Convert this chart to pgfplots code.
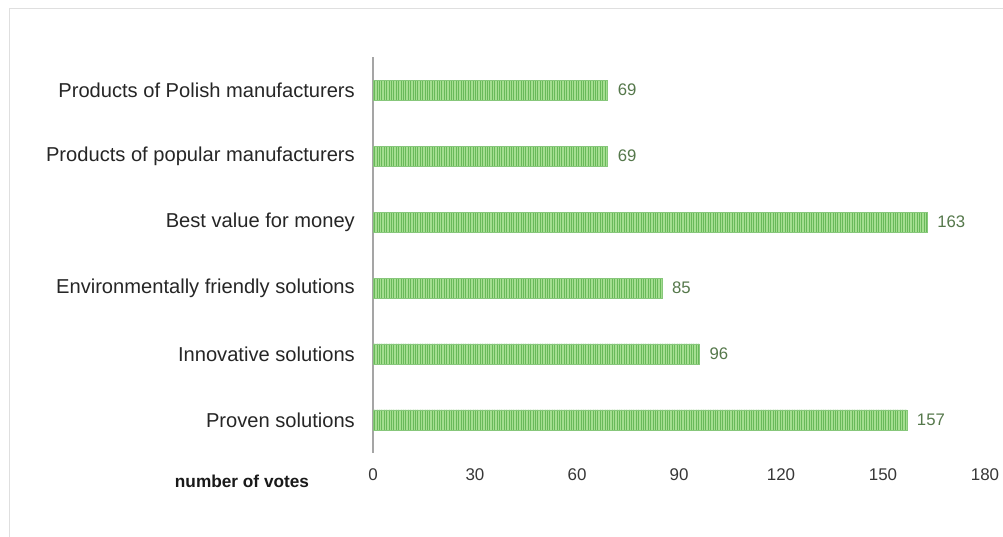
\documentclass[border=0pt]{standalone}
\usepackage{fontspec}
\setmainfont{Liberation Sans}
\usepackage{pgfplots}
\pgfplotsset{compat=1.18}
\usetikzlibrary{patterns.meta}
\definecolor{barfill}{RGB}{165,222,145}
\definecolor{barline}{RGB}{105,185,90}
\definecolor{lblgreen}{RGB}{85,120,75}
\definecolor{axgray}{RGB}{165,165,165}
\definecolor{tickgray}{RGB}{55,55,55}
\begin{document}
\begin{tikzpicture}
\useasboundingbox (0,0) rectangle (1003bp,537bp);
\fill[white] (0,0) rectangle (1003bp,537bp);
\draw[gray!25, line width=1bp] (9bp,0) -- (9bp,528bp) -- (1003bp,528bp);
\begin{axis}[
  at={(373bp,84bp)}, anchor=south west,
  scale only axis, width=612bp, height=396bp,
  xbar, bar width=20bp,
  xmin=0, xmax=180, ymin=-0.5, ymax=5.5,
  xtick={0,30,...,180},
  ytick={0,...,5},
  yticklabels={Proven solutions, Innovative solutions, Environmentally friendly solutions, Best value for money, Products of popular manufacturers, Products of Polish manufacturers},
  axis lines*=left,
  x axis line style={draw=none},
  y axis line style={draw=axgray, line width=1.2bp},
  major tick length=0pt,
  /pgf/number format/assume math mode=true,
  xticklabel style={font=\fontsize{17}{19}\selectfont, text=tickgray, anchor=center, yshift=-22bp},
  yticklabel style={font=\fontsize{20.2}{23}\selectfont, text=black!85, anchor=east, inner sep=0pt, xshift=-18bp},
  nodes near coords,
  nodes near coords style={font=\fontsize{16.8}{18}\selectfont, text=lblgreen, anchor=west, inner sep=0pt, xshift=10bp},
  clip=false,
]
\addplot[draw=barline!80, line width=0.3bp, fill=barfill, postaction={pattern={Lines[angle=90,distance=2.4bp,line width=0.6bp]}, pattern color=barline}] coordinates {
  (157,0) (96,1) (85,2) (163,3) (69,4) (69,5)
};
\end{axis}
\node[font=\fontsize{17.3}{19}\selectfont\bfseries, text=black!90] at (242bp,56bp) {number of votes};
\end{tikzpicture}
\end{document}
